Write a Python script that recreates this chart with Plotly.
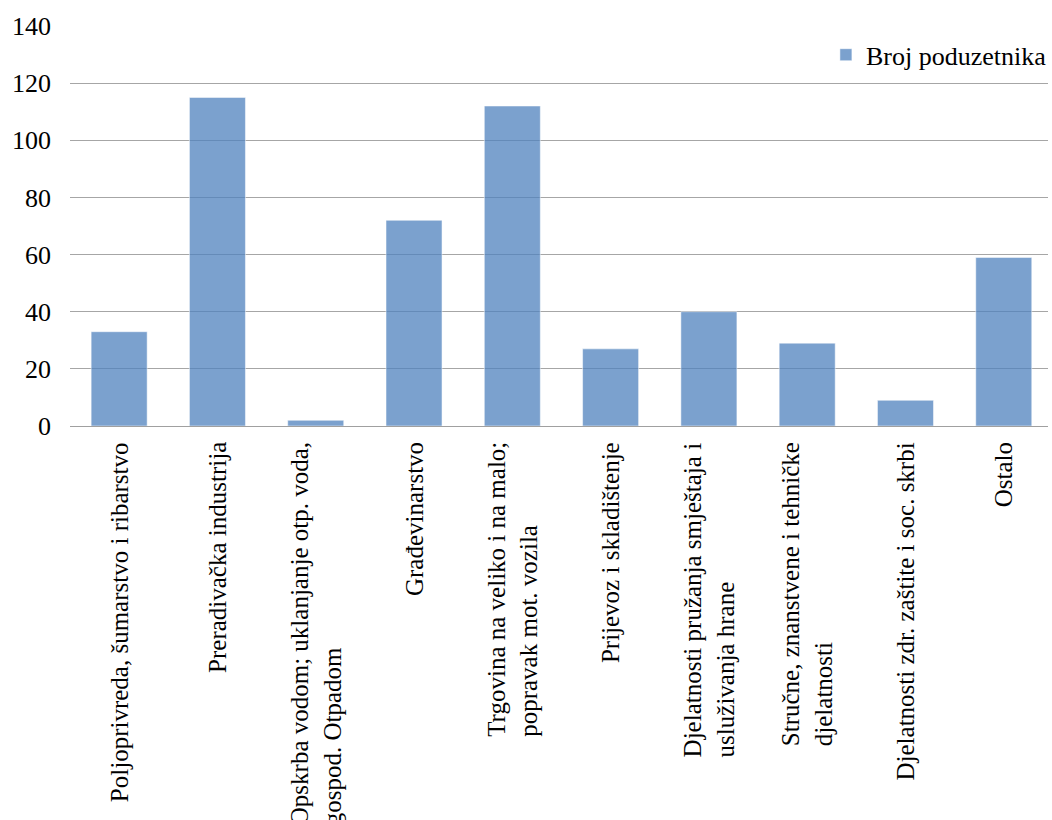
import plotly.graph_objects as go

categories = [
    "Poljoprivreda, šumarstvo i ribarstvo",
    "Preradivačka industrija",
    "Opskrba vodom; uklanjanje otp. voda,<br>gospod. Otpadom",
    "Građevinarstvo",
    "Trgovina na veliko i na malo;<br>popravak mot. vozila",
    "Prijevoz i skladištenje",
    "Djelatnosti pružanja smještaja i<br>usluživanja hrane",
    "Stručne, znanstvene i tehničke<br>djelatnosti",
    "Djelatnosti zdr. zaštite i soc. skrbi",
    "Ostalo",
]
values = [33, 115, 2, 72, 112, 27, 40, 29, 9, 59]
series_name = "Broj poduzetnika"
y_ticks = [0, 20, 40, 60, 80, 100, 120, 140]

font_family = "Liberation Serif"

fig = go.Figure()
fig.add_trace(go.Bar(
    x=list(range(len(categories))),
    y=values,
    name=series_name,
    marker=dict(color="rgba(79,129,189,0.75)", line=dict(color="rgba(255,255,255,0.5)", width=1)),
    showlegend=True,
))

# category labels: rotated, lines aligned at their start
for i, lab in enumerate(categories):
    fig.add_annotation(
        x=i, y=0, xref="x", yref="paper",
        text=lab, textangle=-90, align="left",
        xanchor="center", yanchor="top", yshift=-14,
        showarrow=False,
        font=dict(family=font_family, size=25, color="#000000"),
    )

fig.update_layout(
    width=1052,
    height=820,
    margin=dict(l=70, r=0, t=26, b=394),
    plot_bgcolor="white",
    paper_bgcolor="white",
    bargap=0.43,
    font=dict(family=font_family, size=25, color="#000000"),
    legend=dict(
        x=1.004, xanchor="right", y=0.928, yanchor="middle",
        font=dict(family=font_family, size=26, color="#000000"),
        bgcolor="rgba(255,255,255,0)",
        itemwidth=30,
    ),
    xaxis=dict(
        range=[-0.5, 9.45],
        tickvals=list(range(len(categories))),
        showticklabels=False,
        showgrid=False, showline=False, zeroline=False,
        ticks="", automargin=False,
    ),
    yaxis=dict(
        range=[0, 140],
        tickvals=y_ticks,
        showgrid=True, gridcolor="#A6A6A6", gridwidth=1,
        zeroline=True, zerolinecolor="#A0A0A0", zerolinewidth=1,
        showline=False, ticks="",
        ticklabelstandoff=18,
        tickfont=dict(family=font_family, size=26, color="#000000"),
        automargin=False,
    ),
)

fig.write_html("out.html")
